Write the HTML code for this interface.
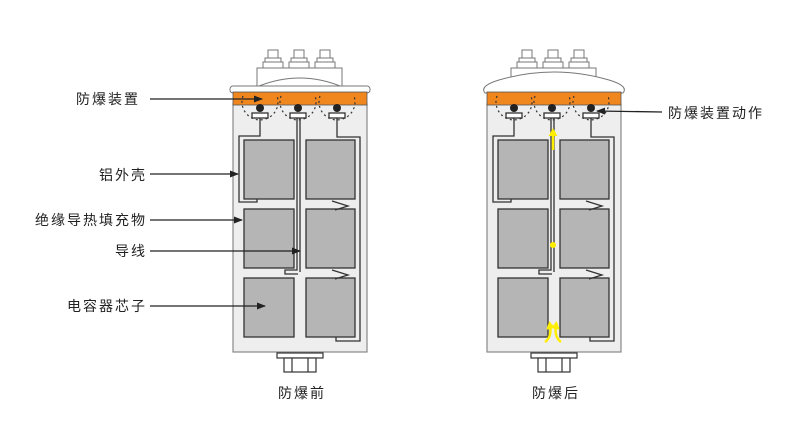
<!DOCTYPE html>
<html><head><meta charset="utf-8"><style>
html,body{margin:0;padding:0;background:#fff;}
svg{display:block;}
text{font-family:"Liberation Sans","Noto Sans CJK SC",sans-serif;font-size:14px;fill:#222;letter-spacing:2px;}
</style></head><body>
<svg width="800" height="444" viewBox="0 0 800 444" xmlns="http://www.w3.org/2000/svg">
<defs>
<marker id="ar" markerUnits="userSpaceOnUse" markerWidth="9" markerHeight="7" refX="8" refY="3.5" orient="auto"><path d="M0,0 L9,3.5 L0,7 z" fill="#222"/></marker>
<marker id="ya" markerUnits="userSpaceOnUse" markerWidth="8" markerHeight="9" refX="4" refY="4.5" orient="auto"><path d="M0,0 L8,4.5 L0,9 z" fill="#ffee00"/></marker>
<g id="bolts" fill="#fff" stroke="#777" stroke-width="1">
<rect x="268" y="50" width="10" height="9"/><rect x="265" y="58" width="16" height="5"/><rect x="263" y="62" width="20" height="6"/>
<rect x="294" y="50" width="10" height="9"/><rect x="291" y="58" width="16" height="5"/><rect x="289" y="62" width="20" height="6"/>
<rect x="320" y="50" width="10" height="9"/><rect x="317" y="58" width="16" height="5"/><rect x="315" y="62" width="20" height="6"/>
</g>
<g id="inner">
<rect x="233" y="104" width="134" height="248" fill="#eeeeee" stroke="#888" stroke-width="1.2"/>
<rect x="233" y="92" width="134" height="13" fill="#f0861e" stroke="#555" stroke-width="0.8"/>
<g fill="none" stroke="#333" stroke-width="1.2" stroke-dasharray="2,3">
<path d="M243,96 A18,18 0 1 0 277,96"/><path d="M281,96 A18,18 0 1 0 315,96"/><path d="M320,96 A18,18 0 1 0 354,96"/>
</g>
<circle cx="260" cy="108" r="4" fill="#222"/><circle cx="298" cy="108" r="4" fill="#222"/><circle cx="337" cy="108" r="4" fill="#222"/>
<g fill="#fff" stroke="#333" stroke-width="1.3">
<rect x="252" y="113" width="16" height="5"/><rect x="290" y="113" width="16" height="5"/><rect x="329" y="113" width="16" height="5"/>
</g>
<g fill="#b5b5b5" stroke="#333" stroke-width="1.3">
<rect x="244" y="140" width="50" height="59"/><rect x="306" y="140" width="49" height="59"/>
<rect x="244" y="209" width="50" height="59"/><rect x="306" y="209" width="49" height="59"/>
<rect x="244" y="278" width="50" height="59"/><rect x="306" y="278" width="49" height="59"/>
</g>
<g fill="none" stroke="#333" stroke-width="1.3">
<path d="M260,118 V136 H239 V202 H257 V199"/>
<path d="M297,118 V270 H285 V274 H298"/>
<path d="M300,118 V272"/>
<path d="M337,118 V137 H360 V341 H336 V337"/>
<path d="M332,201 L348,206 L335,210"/>
<path d="M332,270 L348,275 L335,279"/>
</g>
<rect x="277" y="353" width="46" height="5" fill="#fff" stroke="#333" stroke-width="1.2"/>
<g fill="#fff" stroke="#333" stroke-width="1.2"><rect x="284" y="358" width="32" height="14"/><line x1="292" y1="358" x2="292" y2="372"/><line x1="308" y1="358" x2="308" y2="372"/></g>
</g>
</defs>

<!-- left -->
<use href="#bolts"/>
<rect x="257" y="68" width="85" height="18" fill="#fff" stroke="#777"/>
<path d="M259,86 Q300,70 340,86" fill="none" stroke="#777"/>
<rect x="230" y="86" width="140" height="7" rx="3" fill="#fff" stroke="#777"/>
<use href="#inner"/>

<!-- right -->
<g transform="translate(254,0)">
<use href="#bolts"/>
<path d="M257,86 V68 H342 V86 Z" fill="#fff" stroke="#777"/>
<path d="M231,93 Q225,86 245,80 Q300,64 355,80 Q375,86 369,93 Z" fill="#fff" stroke="#777"/>
<use href="#inner"/>
<g stroke="#ffee00" stroke-width="2.5" fill="none">
<line x1="299" y1="150" x2="299" y2="132" marker-end="url(#ya)"/>
<path d="M291,342 Q298,337 296,325" marker-end="url(#ya)"/>
<path d="M307,342 Q300,337 302,325" marker-end="url(#ya)"/>
</g>
<circle cx="299" cy="245" r="3" fill="#ffee00"/>
</g>

<!-- labels -->
<text x="76" y="104">防爆装置</text>
<text x="147" y="180" text-anchor="end">铝外壳</text>
<text x="147" y="225" text-anchor="end">绝缘导热填充物</text>
<text x="147" y="256" text-anchor="end">导线</text>
<text x="147" y="311" text-anchor="end">电容器芯子</text>
<text x="668" y="118">防爆装置动作</text>
<text x="278" y="398">防爆前</text>
<text x="532" y="398">防爆后</text>
<g stroke="#222" stroke-width="1.3" fill="none">
<line x1="150" y1="99" x2="262" y2="99" marker-end="url(#ar)"/>
<line x1="150" y1="174" x2="238" y2="174" marker-end="url(#ar)"/>
<line x1="150" y1="220" x2="242" y2="220" marker-end="url(#ar)"/>
<line x1="150" y1="251" x2="300" y2="251" marker-end="url(#ar)"/>
<line x1="150" y1="306" x2="265" y2="306" marker-end="url(#ar)"/>
<line x1="662" y1="112" x2="597" y2="111" marker-end="url(#ar)"/>
</g>
</svg>
</body></html>
